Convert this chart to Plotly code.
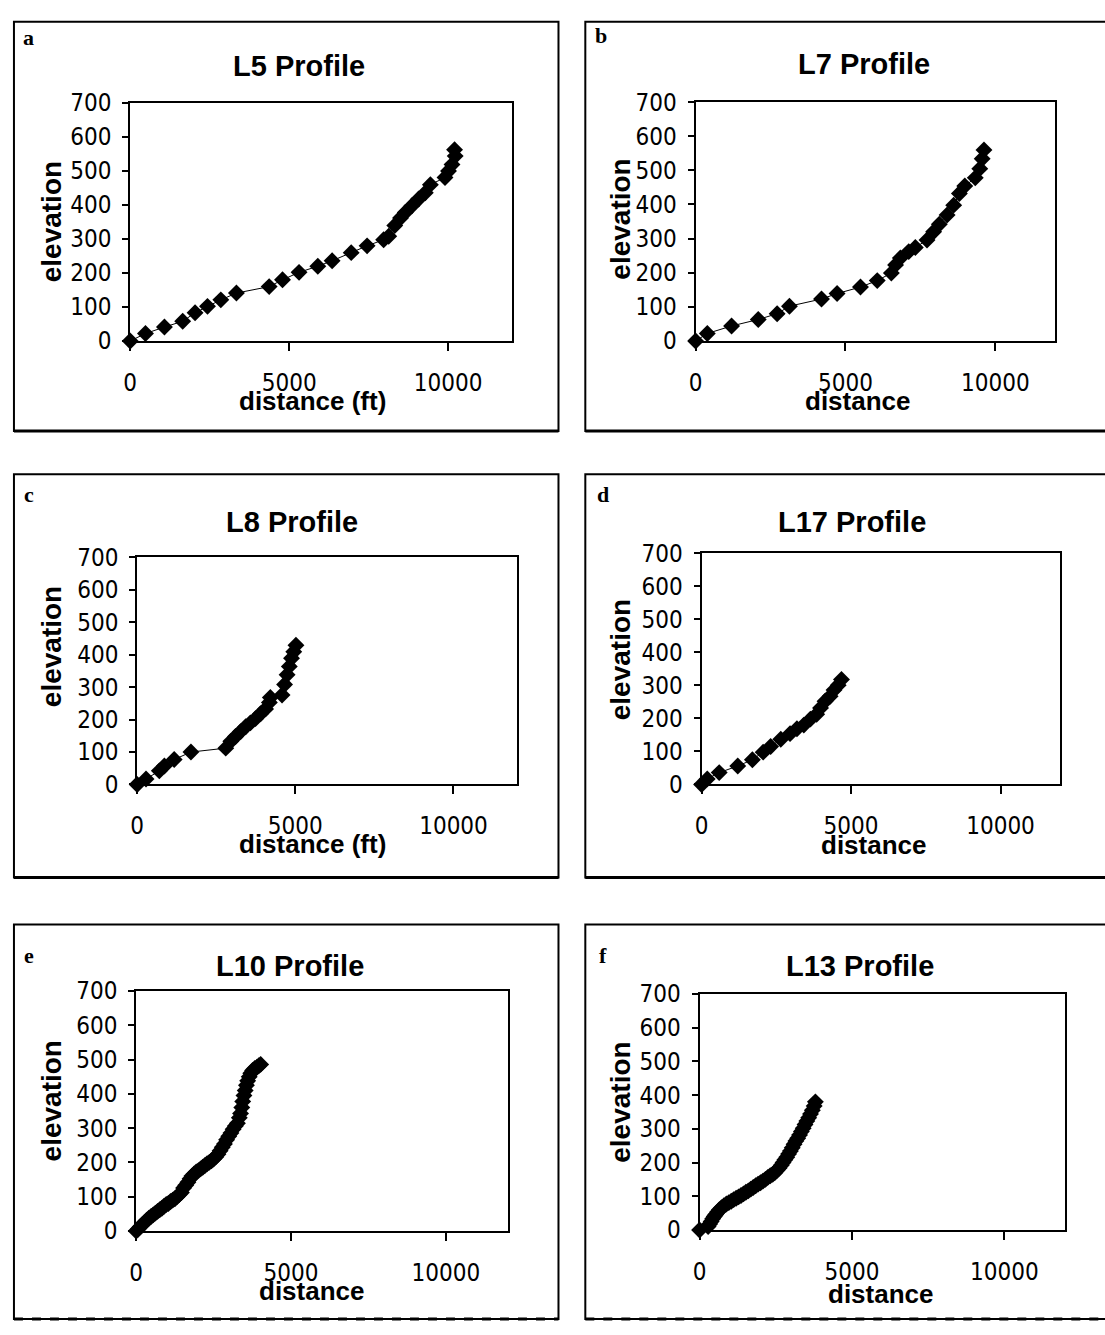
import plotly.graph_objects as go

W, H = 1105, 1335

# ---------------- data ----------------
titles = ["L5 Profile", "L7 Profile", "L8 Profile", "L17 Profile", "L10 Profile", "L13 Profile"]
letters = ["a", "b", "c", "d", "e", "f"]
xtitles = ["distance (ft)", "distance", "distance (ft)", "distance", "distance", "distance"]
ytitle = "elevation"
x_ticks = [0, 5000, 10000]
y_ticks = [0, 100, 200, 300, 400, 500, 600, 700]

l5_dist = [0, 480, 1076, 1650, 2040, 2430, 2850, 3340, 4370, 4790, 5310, 5900, 6350, 6950,
           7450, 7970, 8130, 8320, 8500, 8650, 8860, 9070, 9280, 9440, 9900, 10010, 10120,
           10220, 10200]
l5_elev = [0, 22, 41, 58, 83, 102, 121, 141, 160, 180, 202, 220, 236, 260, 280, 298, 308,
           340, 362, 378, 398, 418, 436, 460, 481, 500, 519, 544, 563]

l7_dist = [0, 390, 1200, 2090, 2720, 3130, 4200, 4720, 5500, 6060, 6530, 6670, 6830, 7110,
           7330, 7720, 7940, 8130, 8390, 8610, 8800, 8980, 9330, 9480, 9560, 9620]
l7_elev = [0, 22, 44, 63, 80, 102, 123, 139, 158, 177, 199, 223, 243, 262, 274, 296, 320,
           342, 369, 398, 432, 454, 478, 505, 534, 560]

l8_dist = [0, 280, 700, 860, 1170, 1700, 2800, 2960, 3110, 3270, 3430, 3580, 3740, 3900,
           4060, 4180, 4210, 4580, 4660, 4740, 4810, 4880, 4950, 5020]
l8_elev = [0, 17, 42, 57, 77, 100, 112, 133, 148, 163, 178, 190, 203, 218, 233, 253, 268,
           276, 308, 338, 364, 389, 409, 429]

l17_dist = [0, 190, 590, 1210, 1700, 2060, 2310, 2650, 2960, 3190, 3420, 3640, 3850, 3980,
            4130, 4300, 4430, 4570, 4680]
l17_elev = [0, 17, 36, 56, 75, 98, 115, 137, 154, 169, 180, 198, 213, 232, 252, 267, 286,
            301, 318]

l10_dist = [0, 60, 130, 200, 270, 340, 410, 480, 550, 620, 690, 760, 830, 900, 970, 1040,
            1110, 1180, 1250, 1320, 1390, 1460, 1530, 1600, 1670, 1740, 1800, 1870, 1940,
            2010, 2080, 2150, 2220, 2290, 2360, 2430, 2500, 2570, 2640, 2710, 2780, 2850,
            2920, 2990, 3060, 3130, 3200, 3270, 3330, 3370, 3410, 3440, 3480, 3520, 3560,
            3600, 3650, 3700, 3760, 3830, 3900, 3960, 4020]
l10_elev = [0, 5, 12, 18, 25, 31, 37, 42, 47, 52, 57, 62, 66, 72, 77, 80, 86, 90, 94, 100,
            106, 112, 125, 133, 142, 152, 160, 166, 172, 176, 181, 186, 191, 196, 200, 205,
            210, 216, 224, 234, 244, 254, 266, 276, 286, 297, 306, 314, 330, 343, 360, 378,
            395, 410, 425, 438, 450, 460, 468, 474, 478, 482, 486]

l13_dist = [0, 280, 330, 380, 430, 480, 530, 590, 650, 720, 800, 880, 960, 1040, 1120, 1200,
            1280, 1360, 1440, 1520, 1600, 1680, 1760, 1840, 1920, 2000, 2080, 2160, 2240,
            2320, 2400, 2470, 2540, 2610, 2680, 2740, 2800, 2860, 2920, 2980, 3040, 3100,
            3160, 3220, 3280, 3340, 3400, 3460, 3520, 3580, 3640, 3700, 3760, 3800]
l13_elev = [0, 10, 18, 25, 33, 40, 46, 53, 60, 66, 72, 77, 81, 85, 90, 94, 98, 102, 107,
            112, 116, 121, 126, 131, 136, 140, 145, 150, 156, 161, 165, 170, 177, 184, 192,
            200, 208, 216, 225, 234, 244, 254, 264, 272, 282, 292, 302, 313, 323, 333, 344,
            355, 368, 380]

series = [(l5_dist, l5_elev), (l7_dist, l7_elev), (l8_dist, l8_elev),
          (l17_dist, l17_elev), (l10_dist, l10_elev), (l13_dist, l13_elev)]

# ---------------- layout geometry (pixels) ----------------
plot_px = [  # x0, x1, y_top, y_bottom
    (124, 508, 91, 334),
    (693, 1055, 90, 334),
    (131, 513, 555, 787),
    (699, 1060, 551, 787),
    (130, 504, 998, 1243),
    (697, 1065, 1001, 1242),
]
boxes = [  # x0, y0, x1, y1
    (7, 8, 555, 426),
    (582, 8, 1112, 426),
    (7, 470, 555, 882),
    (582, 470, 1112, 882),
    (7, 930, 555, 1333),
    (582, 930, 1112, 1333),
]
letter_pos = [(22, 24), (598, 22), (22, 491), (600, 491), (22, 962), (600, 962)]
title_pos = [(294, 53), (862, 51), (287, 519), (850, 519), (285, 972), (858, 972)]
xtitle_pos = [(307, 395), (856, 395), (307, 848), (873, 849), (307, 1304), (880, 1307)]
ytitle_pos = [(45, 212), (618, 210), (45, 646), (617, 660), (45, 1110), (618, 1112)]


def fx(px):
    return px / W


def fy(py):
    return 1 - py / H


TICK_FONT = dict(family="Liberation Sans Narrow, Arial Narrow, DejaVu Sans Condensed, Liberation Sans",
                 size=24, color="black")
BOLD = "Liberation Sans, Arial, sans-serif"

fig = go.Figure()
layout = dict(
    width=W, height=H,
    margin=dict(l=0, r=0, t=0, b=0),
    paper_bgcolor="white", plot_bgcolor="white",
    showlegend=False,
    shapes=[], annotations=[],
)

for i, ((xs, ys), (x0, x1, yt, yb)) in enumerate(zip(series, plot_px)):
    n = "" if i == 0 else str(i + 1)
    fig.add_trace(go.Scatter(
        x=xs, y=ys, mode="lines+markers",
        xaxis="x" + n, yaxis="y" + n,
        line=dict(color="black", width=1),
        marker=dict(symbol="diamond", size=13, color="black"),
        cliponaxis=False, hoverinfo="x+y",
    ))
    common = dict(showline=True, linecolor="black", linewidth=2, mirror=True,
                  showgrid=False, zeroline=False, ticks="outside", tickcolor="black",
                  tickwidth=2, tickfont=TICK_FONT, fixedrange=True)
    layout["xaxis" + n] = dict(domain=[fx(x0), fx(x1)], range=[0, 12000],
                              tickvals=x_ticks, ticktext=[str(v) for v in x_ticks],
                              ticklen=8, ticklabelstandoff=11,
                              anchor="y" + n, **common)
    layout["yaxis" + n] = dict(domain=[fy(yb), fy(yt)], range=[0, 700],
                              tickvals=y_ticks, ticktext=[str(v) for v in y_ticks],
                              ticklen=6, ticklabelstandoff=6,
                              anchor="x" + n, **common)

    bx0, by0, bx1, by1 = boxes[i]
    layout["shapes"].append(dict(type="rect", xref="paper", yref="paper",
                                 x0=fx(bx0), x1=fx(bx1), y0=fy(by1), y1=fy(by0),
                                 line=dict(color="black", width=2), layer="below"))
    layout["shapes"].append(dict(type="line", xref="paper", yref="paper",
                                 x0=fx(bx0), x1=fx(bx1), y0=fy(by1), y1=fy(by1),
                                 line=dict(color="black", width=3,
                                           dash="dash" if i >= 4 else "solid")))

    lx, ly = letter_pos[i]
    layout["annotations"].append(dict(text="<b>" + letters[i] + "</b>", x=fx(lx), y=fy(ly),
                                      xref="paper", yref="paper", showarrow=False,
                                      xanchor="center", yanchor="middle",
                                      font=dict(family="Liberation Serif, Times New Roman, serif",
                                                size=22, color="black")))
    tx, ty = title_pos[i]
    layout["annotations"].append(dict(text="<b>" + titles[i] + "</b>", x=fx(tx), y=fy(ty),
                                      xref="paper", yref="paper", showarrow=False,
                                      xanchor="center", yanchor="middle",
                                      font=dict(family=BOLD, size=29, color="black")))
    ax, ay = xtitle_pos[i]
    layout["annotations"].append(dict(text="<b>" + xtitles[i] + "</b>", x=fx(ax), y=fy(ay),
                                      xref="paper", yref="paper", showarrow=False,
                                      xanchor="center", yanchor="middle",
                                      font=dict(family=BOLD, size=26, color="black")))
    vx, vy = ytitle_pos[i]
    layout["annotations"].append(dict(text="<b>" + ytitle + "</b>", x=fx(vx), y=fy(vy),
                                      xref="paper", yref="paper", showarrow=False,
                                      textangle=-90, xanchor="center", yanchor="middle",
                                      font=dict(family=BOLD, size=28, color="black")))

fig.update_layout(**layout)
fig.write_html("out.html")
